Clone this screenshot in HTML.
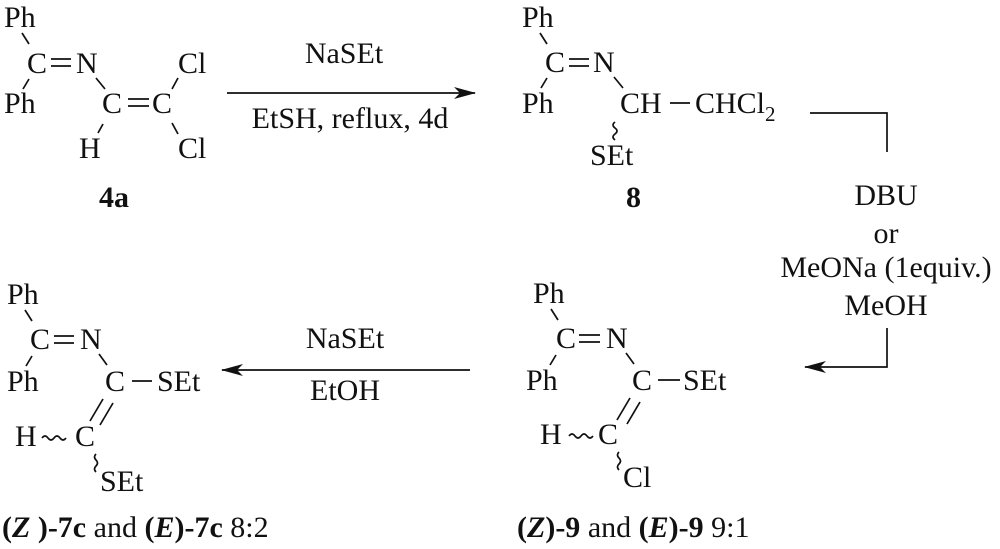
<!DOCTYPE html>
<html><head><style>
html,body{margin:0;padding:0;background:#fff;}
svg{display:block}
text{font-family:"Liberation Serif","Times New Roman",serif;font-size:30px;fill:#111;}
.b{font-weight:bold}
line,path,polyline{stroke:#111;stroke-width:1.7;fill:none}
path.ah{fill:#111;stroke:none}
</style></head><body>
<svg width="1000" height="549" viewBox="0 0 1000 549">
<defs><marker id="ah" markerWidth="22" markerHeight="12" refX="21" refY="6" orient="auto" markerUnits="userSpaceOnUse"><path class="ah" d="M0,0 L22,6 L0,12 L6,6z"/></marker></defs>
<!-- 4a -->
<text x="4" y="27">Ph</text>
<line x1="22" y1="33" x2="29" y2="44"/>
<text x="27" y="73">C</text>
<line x1="51" y1="59" x2="71" y2="59"/><line x1="51" y1="66" x2="71" y2="66"/>
<text x="76" y="73">N</text>
<line x1="29" y1="79" x2="23" y2="89"/>
<text x="4" y="113">Ph</text>
<line x1="96" y1="78" x2="105" y2="89"/>
<text x="102" y="113">C</text>
<line x1="128" y1="99" x2="149" y2="99"/><line x1="128" y1="106" x2="149" y2="106"/>
<text x="152" y="113">C</text>
<line x1="172" y1="89" x2="178" y2="78"/>
<text x="178" y="73">Cl</text>
<line x1="172" y1="123" x2="178" y2="134"/>
<text x="178" y="158">Cl</text>
<line x1="103" y1="124" x2="98" y2="133"/>
<text x="79" y="158">H</text>
<text class="b" x="99" y="207">4a</text>
<!-- arrow 1 -->
<line x1="227" y1="93" x2="475" y2="93" marker-end="url(#ah)"/>
<text x="344" y="63" text-anchor="middle">NaSEt</text>
<text x="350" y="128" text-anchor="middle">EtSH, reflux, 4d</text>
<!-- 8 -->
<text x="522" y="27">Ph</text>
<line x1="540" y1="33" x2="547" y2="44"/>
<text x="545" y="72">C</text>
<line x1="569" y1="59" x2="589" y2="59"/><line x1="569" y1="66" x2="589" y2="66"/>
<text x="593" y="72">N</text>
<line x1="547" y1="78" x2="541" y2="88"/>
<text x="522" y="113">Ph</text>
<line x1="614" y1="77" x2="623" y2="88"/>
<text x="620" y="113">CH</text>
<line x1="670" y1="103" x2="690" y2="103"/>
<text x="695" y="113">CHCl</text>
<text x="765" y="121" style="font-size:21px">2</text>
<path d="M615,122 q-4,3 0,6 q4,3 0,6 q-4,3 0,6"/>
<text x="590" y="165">SEt</text>
<text class="b" x="626" y="207">8</text>
<!-- bracket -->
<polyline points="810,113 887,113 887,152"/>
<text x="886" y="205" text-anchor="middle">DBU</text>
<text x="886" y="243" text-anchor="middle">or</text>
<text x="886" y="277" text-anchor="middle">MeONa (1equiv.)</text>
<text x="886" y="315" text-anchor="middle">MeOH</text>
<polyline points="887,328 887,367 805,367" marker-end="url(#ah)"/>
<!-- 9 -->
<text x="533" y="303">Ph</text>
<line x1="551" y1="309" x2="558" y2="320"/>
<text x="556" y="348">C</text>
<line x1="579" y1="335" x2="600" y2="335"/><line x1="579" y1="342" x2="600" y2="342"/>
<text x="606" y="348">N</text>
<line x1="556" y1="355" x2="550" y2="365"/>
<text x="526" y="390">Ph</text>
<line x1="626" y1="353" x2="634" y2="364"/>
<text x="632" y="390">C</text>
<line x1="658" y1="380" x2="680" y2="380"/>
<text x="683" y="390">SEt</text>
<line x1="630" y1="398" x2="617" y2="420"/><line x1="640" y1="402" x2="627" y2="424"/>
<text x="598" y="444">C</text>
<text x="540" y="444">H</text>
<path d="M569,436 q3,-4 6,0 q3,4 6,0 q3,-4 6,0 q3,4 6,0"/>
<path d="M619,452 q-3,3 0,6 q3,3 0,6 q-3,3 0,6"/>
<text x="623" y="487">Cl</text>
<text x="517" y="537"><tspan class="b">(</tspan><tspan class="b" font-style="italic">Z</tspan><tspan class="b">)-9</tspan> and <tspan class="b">(</tspan><tspan class="b" font-style="italic">E</tspan><tspan class="b">)-9</tspan> 9:1</text>
<!-- arrow 2 -->
<line x1="470" y1="370" x2="222" y2="370" marker-end="url(#ah)"/>
<text x="345" y="348" text-anchor="middle">NaSEt</text>
<text x="345" y="400" text-anchor="middle">EtOH</text>
<!-- 7c -->
<text x="7" y="304">Ph</text>
<line x1="25" y1="310" x2="32" y2="321"/>
<text x="30" y="349">C</text>
<line x1="54" y1="336" x2="74" y2="336"/><line x1="54" y1="343" x2="74" y2="343"/>
<text x="80" y="349">N</text>
<line x1="32" y1="356" x2="26" y2="366"/>
<text x="7" y="391">Ph</text>
<line x1="99" y1="354" x2="107" y2="365"/>
<text x="105" y="391">C</text>
<line x1="132" y1="381" x2="152" y2="381"/>
<text x="157" y="391">SEt</text>
<line x1="103" y1="399" x2="90" y2="421"/><line x1="113" y1="403" x2="100" y2="425"/>
<text x="75" y="446">C</text>
<text x="15" y="446">H</text>
<path d="M42,438 q3,-4 6,0 q3,4 6,0 q3,-4 6,0 q3,4 6,0"/>
<path d="M96,454 q-3,3 0,6 q3,3 0,6 q-3,3 0,6"/>
<text x="100" y="491">SEt</text>
<text x="2" y="537"><tspan class="b">(</tspan><tspan class="b" font-style="italic">Z </tspan><tspan class="b">)-7c</tspan> and <tspan class="b">(</tspan><tspan class="b" font-style="italic">E</tspan><tspan class="b">)-7c</tspan> 8:2</text>
</svg>
</body></html>
